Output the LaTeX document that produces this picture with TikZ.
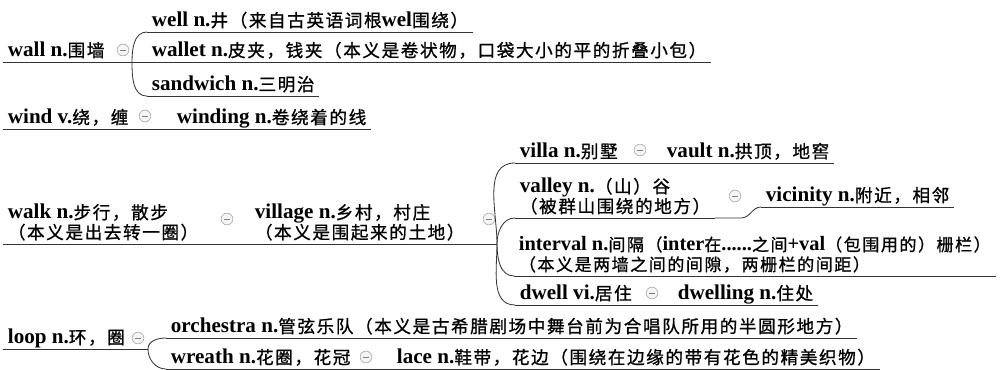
\documentclass[tikz,border=0pt]{standalone}
\usepackage{fontspec}
\setmainfont{Liberation Serif}
\newfontfamily\zhfont[Scale=0.835,LetterSpace=9,FakeBold=1]{Noto Sans CJK SC}
\newcommand\en[1]{{\rmfamily\bfseries #1}}

\tikzset{
  link/.style={draw=black!80, line width=0.7pt},
  topic/.style={anchor=south west, inner xsep=4pt, inner ysep=4.2pt, text depth=0pt, align=left,
    font=\fontsize{18pt}{17pt}\selectfont\zhfont,
    append after command={(\tikzlastnode.south west) edge[link] (\tikzlastnode.south east)}},
  fold/.style={circle, draw=gray!60, fill=gray!8, line width=0.6pt, minimum size=10pt, inner sep=0pt,
    path picture={\draw[gray, line width=0.7pt]
      ([xshift=-2.3pt]path picture bounding box.center) -- ([xshift=2.3pt]path picture bounding box.center);}}
}

\begin{document}
\begin{tikzpicture}[x=0.03cm, y=0.03cm]
\useasboundingbox (0,0) rectangle (1000,-370);

% wall
\node[topic] (wall) at (3,-62) {\en{wall n.}围墙};
\node[fold] (wallf) at (123,-50) {};
\coordinate (wallb) at (132,-62);
\node[topic] (well) at (147,-32) {\en{well n.}井（来自古英语词根\en{wel}围绕）};
\node[topic] (wallet) at (147,-62) {\en{wallet n.}皮夹，钱夹（本义是卷状物，口袋大小的平的折叠小包）};
\node[topic] (sandwich) at (147,-96) {\en{sandwich n.}三明治};
\draw[link] (wall.south east) -- (wallb);
\draw[link] (wallb) to[out=90,in=180] (well.south west);
\draw[link] (wallb) -- (wallet.south west);
\draw[link] (wallb) to[out=-90,in=180] (sandwich.south west);

% wind
\node[topic] (wind) at (3,-129) {\en{wind v.}绕，缠};
\node[fold] (windf) at (145,-116) {};
\node[topic] (winding) at (172,-129) {\en{winding n.}卷绕着的线};
\draw[link] (wind.south east) -- (winding.south west);

% walk / village
\node[topic] (walk) at (3,-244) {\en{walk n.}步行，散步\\（本义是出去转一圈）};
\node[fold] (walkf) at (227,-219) {};
\node[topic] (village) at (250,-244) {\en{village n.}乡村，村庄\\（本义是围起来的土地）};
\node[fold] (villagef) at (489,-219) {};
\coordinate (villageb) at (497,-244);
\draw[link] (walk.south east) -- (village.south west);
\draw[link] (village.south east) -- (villageb);

\node[topic] (villa) at (515,-163) {\en{villa n.}别墅};
\node[fold] (villaf) at (640,-150) {};
\node[topic] (vault) at (662,-163) {\en{vault n.}拱顶，地窖};
\draw[link] (villa.south east) -- (vault.south west);

\node[topic] (valley) at (515,-218) {\en{valley n.}（山）谷\\（被群山围绕的地方）};
\node[fold] (valleyf) at (735,-196) {};
\node[topic] (vicinity) at (761,-207) {\en{vicinity n.}附近，相邻};
\draw[link] (valley.south east) -- (valleyf.east |- valley.south) to[out=0,in=180] (vicinity.south west);

\node[topic, font=\fontsize{17.4pt}{17pt}\selectfont\zhfont] (interval) at (514,-276) {\en{interval n.}间隔（\en{inter}在\en{......}之间\en{+val}（包围用的）栅栏）\\（本义是两墙之间的间隙，两栅栏的间距）};

\node[topic] (dwell) at (515,-305) {\en{dwell vi.}居住};
\node[fold] (dwellf) at (652,-293) {};
\node[topic] (dwelling) at (673,-305) {\en{dwelling n.}住处};
\draw[link] (dwell.south east) -- (dwelling.south west);

\draw[link] (villageb) to[out=90,in=180] (villa.south west);
\draw[link] (villageb) to[out=90,in=180] (valley.south west);
\draw[link] (villageb) to[out=-90,in=180] (interval.south west);
\draw[link] (villageb) to[out=-90,in=180] (dwell.south west);

% loop
\node[topic] (loop) at (3,-349) {\en{loop n.}环，圈};
\node[fold] (loopf) at (138,-338) {};
\coordinate (loopb) at (148,-349);
\node[topic] (orchestra) at (166,-338) {\en{orchestra n.}管弦乐队（本义是古希腊剧场中舞台前为合唱队所用的半圆形地方）};
\node[topic] (wreath) at (166,-369) {\en{wreath n.}花圈，花冠};
\node[fold] (wreathf) at (366,-357) {};
\node[topic] (lace) at (392,-369) {\en{lace n.}鞋带，花边（围绕在边缘的带有花色的精美织物）};
\draw[link] (loop.south east) -- (loopb);
\draw[link] (loopb) to[out=90,in=180] (orchestra.south west);
\draw[link] (loopb) to[out=-90,in=180] (wreath.south west);
\draw[link] (wreath.south east) -- (lace.south west);
\end{tikzpicture}
\end{document}
